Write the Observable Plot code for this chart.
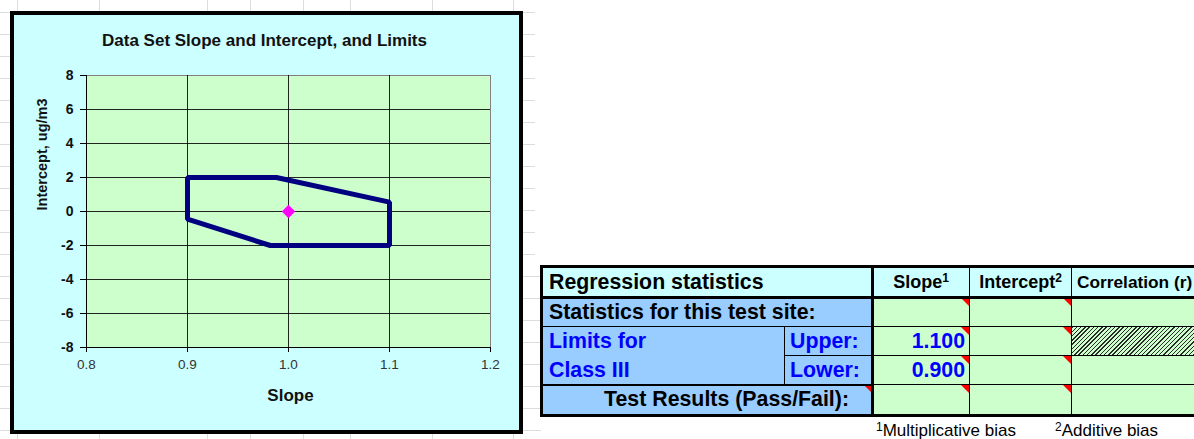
<!DOCTYPE html>
<html><head><meta charset="utf-8">
<script src="https://cdn.jsdelivr.net/npm/d3@7"></script>
<script src="https://cdn.jsdelivr.net/npm/@observablehq/plot@0.6"></script>
<style>
html,body{margin:0;padding:0;}
body{width:1194px;height:439px;overflow:hidden;background:#fff;position:relative;font-family:"Liberation Sans",Arial,sans-serif;}
.g{position:absolute;background:#dcdcdc;}
#chartbox{position:absolute;left:10px;top:11px;width:513px;height:423px;box-sizing:border-box;border:4px solid #000;background:#ccffff;}
#chart{position:absolute;left:10px;top:11px;width:513px;height:423px;}
#cover{position:absolute;left:535px;top:0;width:670px;height:257px;background:#fff;}
#cover2{position:absolute;left:541px;top:257px;width:670px;height:190px;background:#fff;}
.c{position:absolute;box-sizing:border-box;border-right:1px solid #000;border-bottom:1px solid #000;display:flex;align-items:center;white-space:nowrap;overflow:hidden;font-weight:bold;}
.tri{position:absolute;width:0;height:0;border-top:8px solid #ff0000;border-left:8px solid transparent;}
.foot{position:absolute;top:421px;height:20px;line-height:20px;font-size:17px;color:#000;white-space:nowrap;}
sup{font-size:12px;vertical-align:top;position:relative;top:-4px;}
</style>
</head><body>
<div id="sheet"></div>
<div id="cover"></div>
<div id="cover2"></div>
<div id="chartbox"></div>
<div id="chart"></div>
<div id="table"></div>
<div class="foot" style="left:876px"><sup>1</sup>Multiplicative bias</div>
<div class="foot" style="left:1055px"><sup>2</sup>Additive bias</div>
<script>
// ---- data ----
const chartTitle = "Data Set Slope and Intercept, and Limits";
const xTitle = "Slope";
const yTitle = "Intercept, ug/m3";
const xTicks = [0.8, 0.9, 1.0, 1.1, 1.2];
const yTicks = [-8, -6, -4, -2, 0, 2, 4, 6, 8];
const limitSlope = [0.9, 0.988, 1.1, 1.1, 0.982, 0.9];
const limitIntercept = [2, 2, 0.55, -2, -2, -0.45];
const targetSlope = [1.0];
const targetIntercept = [0];
const tableHeaders = ["Regression statistics", "Slope", "Intercept", "Correlation (r)"];
const rowLabels = ["Statistics for this test site:", "Limits for", "Class III", "Upper:", "Lower:", "Test Results (Pass/Fail):"];
const upperSlope = "1.100";
const lowerSlope = "0.900";

// ---- sheet gridlines (layout) ----
const sheet = document.getElementById("sheet");
function gl(x, y, w, h){const d=document.createElement("div");d.className="g";Object.assign(d.style,{left:x+"px",top:y+"px",width:w+"px",height:h+"px"});sheet.appendChild(d);}
for(let y=12;y<439;y+=22) gl(0,y,541,1);
[17,99,207,250,303,350,432,513].forEach(x=>gl(x,0,1,439));
[543,632,710,751,785,873,970,1072].forEach(x=>{gl(x,257,1,10);gl(x,416,1,23);});

// ---- chart ----
const poly = limitSlope.map((s,i)=>({slope:s, intercept:limitIntercept[i]}));
const center = targetSlope.map((s,i)=>({slope:s, intercept:targetIntercept[i]}));
const xGrid = xTicks.slice(1,-1);
const yGrid = yTicks.slice(1,-1);
const chart = Plot.plot({
  width:513, height:423,
  marginLeft:76, marginRight:33, marginTop:64, marginBottom:87,
  style:{background:"transparent", fontFamily:"'Liberation Sans', Arial, sans-serif", color:"#000", overflow:"visible"},
  x:{domain:[0.8,1.2]},
  y:{domain:[-8,8]},
  marks:[
    Plot.frame({fill:"#ccffcc", stroke:"#808080"}),
    Plot.ruleX(xGrid, {stroke:"#000", strokeOpacity:0.85}),
    Plot.ruleY(yGrid, {stroke:"#000", strokeOpacity:0.85}),
    Plot.ruleX([xTicks[0]], {stroke:"#000"}),
    Plot.ruleY([yTicks[0]], {stroke:"#000"}),
    Plot.axisX({ticks:xTicks, tickFormat:d=>d.toFixed(1), tickSize:5, tickPadding:7, fontSize:13.5, label:null, fill:"#333", stroke:"#000"}),
    Plot.axisY({ticks:yTicks, tickFormat:d=>String(d), tickSize:6, tickPadding:7, fontSize:14, fontWeight:"bold", label:null, fill:"#111", stroke:"#000"}),
    Plot.line(poly, {x:"slope", y:"intercept", curve:"linear-closed", stroke:"#000080", strokeWidth:5, strokeLinejoin:"miter", strokeLinecap:"butt"}),
    Plot.dot(center, {x:"slope", y:"intercept", symbol:"diamond2", fill:"#ff00ff", r:6}),
    Plot.text([chartTitle], {frameAnchor:"top", lineAnchor:"middle", dx:-24, dy:-35, fontSize:17, fontWeight:"bold", fill:"#111"}),
    Plot.text([xTitle], {frameAnchor:"bottom", lineAnchor:"middle", dx:2, dy:48, fontSize:17, fontWeight:"bold", fill:"#111"}),
    Plot.text([yTitle], {frameAnchor:"left", lineAnchor:"middle", rotate:-90, dx:-44, dy:-1, fontSize:14.5, fontWeight:"bold", fill:"#111"})
  ]
});
document.getElementById("chart").appendChild(chart);

// ---- table (layout) ----
const cols=[543,785,873,970,1072,1200];
const rows=[267,298,327,356,385,415];
const tbl=document.getElementById("table");
const CYAN="#ccffff", BLUE="#99ccff", GREEN="#ccffcc";
function cell(c0,c1,r0,r1,bg,html,st={}){
  const d=document.createElement("div");d.className="c";
  Object.assign(d.style,{left:cols[c0]+"px",top:rows[r0]+"px",width:(cols[c1]-cols[c0])+"px",height:(rows[r1]-rows[r0])+"px",background:bg},st);
  d.innerHTML=html;tbl.appendChild(d);return d;
}
function tri(c,r){const t=document.createElement("div");t.className="tri";t.style.left=(cols[c]-9)+"px";t.style.top=(rows[r])+"px";tbl.appendChild(t);}
const big={fontSize:"21.33px",paddingLeft:"6px"};
cell(0,2,0,1,CYAN,tableHeaders[0],big);
cell(2,3,0,1,CYAN,tableHeaders[1]+"<sup>1</sup>",{fontSize:"18px",justifyContent:"center"});
cell(3,4,0,1,CYAN,tableHeaders[2]+"<sup>2</sup>",{fontSize:"18px",justifyContent:"center"});
cell(4,5,0,1,CYAN,tableHeaders[3],{fontSize:"17.3px",paddingLeft:"5px"});
cell(0,2,1,2,BLUE,rowLabels[0],big);
cell(2,3,1,2,GREEN,"");cell(3,4,1,2,GREEN,"");cell(4,5,1,2,GREEN,"");
cell(0,1,2,4,BLUE,"",{});
cell(0,1,2,3,"transparent",rowLabels[1],Object.assign({color:"#0000ff",borderBottom:"none",borderRight:"none"},big));
cell(0,1,3,4,"transparent",rowLabels[2],Object.assign({color:"#0000ff",borderBottom:"none",borderRight:"none"},big));
cell(1,2,2,3,BLUE,rowLabels[3],{fontSize:"21.33px",paddingLeft:"5px",color:"#0000ff"});
cell(1,2,3,4,BLUE,rowLabels[4],{fontSize:"21.33px",paddingLeft:"5px",color:"#0000ff"});
cell(2,3,2,3,GREEN,upperSlope,{fontSize:"21.33px",justifyContent:"flex-end",paddingRight:"4px",color:"#0000ff"});
cell(2,3,3,4,GREEN,lowerSlope,{fontSize:"21.33px",justifyContent:"flex-end",paddingRight:"4px",color:"#0000ff"});
cell(3,4,2,3,GREEN,"");cell(3,4,3,4,GREEN,"");
cell(4,5,2,3,"repeating-linear-gradient(135deg,#2a2a2a 0 1px,#ccffcc 1px 3px)","");
cell(4,5,3,4,GREEN,"");
cell(0,2,4,5,BLUE,rowLabels[5],{fontSize:"21.33px",justifyContent:"flex-end",paddingRight:"23px"});
cell(2,3,4,5,GREEN,"");cell(3,4,4,5,GREEN,"");cell(4,5,4,5,GREEN,"");
// comment indicators: [right-edge column index, row]
[[3,1],[4,1],[3,2],[4,2],[3,3],[4,3],[2,4],[3,4],[4,4]].forEach(([c,r])=>tri(c,r));
// thick lines
function line(x,y,w,h){const d=document.createElement("div");Object.assign(d.style,{position:"absolute",left:x+"px",top:y+"px",width:w+"px",height:h+"px",background:"#000"});tbl.appendChild(d);}
line(541,rows[1]-2,670,3);
line(cols[2]-2,rows[0],3,rows[5]-rows[0]);
line(541,rows[4]-1,cols[2]-541,2);
const ob=document.createElement("div");Object.assign(ob.style,{position:"absolute",left:"540px",top:"265px",width:"680px",height:(rows[5]-265+2)+"px",border:"3px solid #000",boxSizing:"border-box"});tbl.appendChild(ob);
</script>
</body></html>
